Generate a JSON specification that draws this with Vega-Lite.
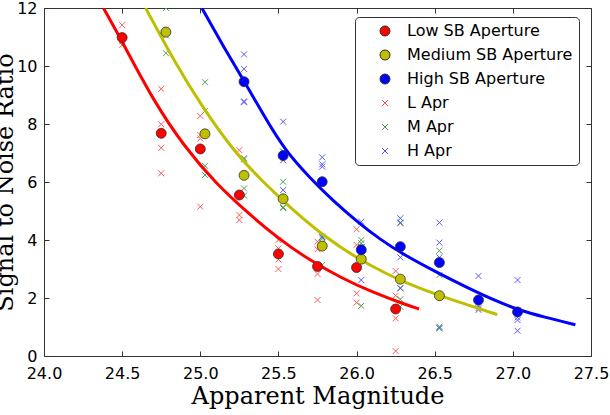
{
  "$schema": "https://vega.github.io/schema/vega-lite/v6.json",
  "width": 547,
  "height": 348,
  "autosize": "none",
  "padding": {"left": 44, "top": 8, "right": 19, "bottom": 59},
  "background": "white",
  "config": {
    "view": {"stroke": "#333", "strokeWidth": 1},
    "axis": {
      "labelFont": "DejaVu Sans", "labelFontSize": 16, "labelColor": "black",
      "titleFont": "DejaVu Serif", "titleFontWeight": "normal", "titleColor": "black", "titleFontSize": 24,
      "grid": false, "domainColor": "#333", "tickColor": "#333", "tickSize": -5, "tickWidth": 1
    }
  },
  "datasets": {
    "avg": [
      {"mag": 24.5, "snr": 10.98, "series": "Low SB Aperture"},
      {"mag": 24.75, "snr": 7.68, "series": "Low SB Aperture"},
      {"mag": 25.0, "snr": 7.14, "series": "Low SB Aperture"},
      {"mag": 25.25, "snr": 5.55, "series": "Low SB Aperture"},
      {"mag": 25.5, "snr": 3.52, "series": "Low SB Aperture"},
      {"mag": 25.75, "snr": 3.09, "series": "Low SB Aperture"},
      {"mag": 26.0, "snr": 3.05, "series": "Low SB Aperture"},
      {"mag": 26.25, "snr": 1.62, "series": "Low SB Aperture"},
      {"mag": 24.78, "snr": 11.17, "series": "Medium SB Aperture"},
      {"mag": 25.03, "snr": 7.66, "series": "Medium SB Aperture"},
      {"mag": 25.28, "snr": 6.23, "series": "Medium SB Aperture"},
      {"mag": 25.53, "snr": 5.42, "series": "Medium SB Aperture"},
      {"mag": 25.78, "snr": 3.79, "series": "Medium SB Aperture"},
      {"mag": 26.03, "snr": 3.34, "series": "Medium SB Aperture"},
      {"mag": 26.28, "snr": 2.65, "series": "Medium SB Aperture"},
      {"mag": 26.53, "snr": 2.08, "series": "Medium SB Aperture"},
      {"mag": 25.28, "snr": 9.46, "series": "High SB Aperture"},
      {"mag": 25.53, "snr": 6.91, "series": "High SB Aperture"},
      {"mag": 25.78, "snr": 6.01, "series": "High SB Aperture"},
      {"mag": 26.03, "snr": 3.66, "series": "High SB Aperture"},
      {"mag": 26.28, "snr": 3.77, "series": "High SB Aperture"},
      {"mag": 26.53, "snr": 3.22, "series": "High SB Aperture"},
      {"mag": 26.78, "snr": 1.93, "series": "High SB Aperture"},
      {"mag": 27.03, "snr": 1.52, "series": "High SB Aperture"}
    ],
    "trials": [
      {"mag": 24.5, "snr": 11.41, "series": "L Apr"}, {"mag": 24.5, "snr": 11.0, "series": "L Apr"}, {"mag": 24.5, "snr": 10.87, "series": "L Apr"}, {"mag": 24.5, "snr": 10.72, "series": "L Apr"},
      {"mag": 24.75, "snr": 9.21, "series": "L Apr"}, {"mag": 24.75, "snr": 7.99, "series": "L Apr"}, {"mag": 24.75, "snr": 7.18, "series": "L Apr"}, {"mag": 24.75, "snr": 6.30, "series": "L Apr"},
      {"mag": 25.0, "snr": 8.28, "series": "L Apr"}, {"mag": 25.0, "snr": 7.62, "series": "L Apr"}, {"mag": 25.0, "snr": 7.5, "series": "L Apr"}, {"mag": 25.0, "snr": 5.15, "series": "L Apr"},
      {"mag": 25.25, "snr": 7.10, "series": "L Apr"}, {"mag": 25.25, "snr": 5.55, "series": "L Apr"}, {"mag": 25.25, "snr": 4.86, "series": "L Apr"}, {"mag": 25.25, "snr": 4.69, "series": "L Apr"},
      {"mag": 25.5, "snr": 4.0, "series": "L Apr"}, {"mag": 25.5, "snr": 3.71, "series": "L Apr"}, {"mag": 25.5, "snr": 3.33, "series": "L Apr"}, {"mag": 25.5, "snr": 3.0, "series": "L Apr"},
      {"mag": 25.75, "snr": 3.94, "series": "L Apr"}, {"mag": 25.75, "snr": 3.68, "series": "L Apr"}, {"mag": 25.75, "snr": 2.83, "series": "L Apr"}, {"mag": 25.75, "snr": 1.93, "series": "L Apr"},
      {"mag": 26.0, "snr": 4.37, "series": "L Apr"}, {"mag": 26.0, "snr": 3.83, "series": "L Apr"}, {"mag": 26.0, "snr": 2.16, "series": "L Apr"}, {"mag": 26.0, "snr": 1.84, "series": "L Apr"},
      {"mag": 26.25, "snr": 2.93, "series": "L Apr"}, {"mag": 26.25, "snr": 2.08, "series": "L Apr"}, {"mag": 26.25, "snr": 1.30, "series": "L Apr"}, {"mag": 26.25, "snr": 0.17, "series": "L Apr"},
      {"mag": 24.78, "snr": 12.0, "series": "M Apr"}, {"mag": 24.78, "snr": 11.2, "series": "M Apr"}, {"mag": 24.78, "snr": 11.05, "series": "M Apr"}, {"mag": 24.78, "snr": 10.44, "series": "M Apr"},
      {"mag": 25.03, "snr": 9.44, "series": "M Apr"}, {"mag": 25.03, "snr": 8.45, "series": "M Apr"}, {"mag": 25.03, "snr": 6.56, "series": "M Apr"}, {"mag": 25.03, "snr": 6.24, "series": "M Apr"},
      {"mag": 25.28, "snr": 6.82, "series": "M Apr"}, {"mag": 25.28, "snr": 6.78, "series": "M Apr"}, {"mag": 25.28, "snr": 5.78, "series": "M Apr"}, {"mag": 25.28, "snr": 5.53, "series": "M Apr"},
      {"mag": 25.53, "snr": 6.01, "series": "M Apr"}, {"mag": 25.53, "snr": 5.44, "series": "M Apr"}, {"mag": 25.53, "snr": 5.13, "series": "M Apr"}, {"mag": 25.53, "snr": 5.10, "series": "M Apr"},
      {"mag": 25.78, "snr": 4.12, "series": "M Apr"}, {"mag": 25.78, "snr": 4.05, "series": "M Apr"}, {"mag": 25.78, "snr": 3.9, "series": "M Apr"}, {"mag": 25.78, "snr": 3.14, "series": "M Apr"},
      {"mag": 26.03, "snr": 4.0, "series": "M Apr"}, {"mag": 26.03, "snr": 3.89, "series": "M Apr"}, {"mag": 26.03, "snr": 3.75, "series": "M Apr"}, {"mag": 26.03, "snr": 1.73, "series": "M Apr"},
      {"mag": 26.28, "snr": 4.58, "series": "M Apr"}, {"mag": 26.28, "snr": 2.35, "series": "M Apr"}, {"mag": 26.28, "snr": 1.96, "series": "M Apr"}, {"mag": 26.28, "snr": 1.70, "series": "M Apr"},
      {"mag": 26.53, "snr": 3.63, "series": "M Apr"}, {"mag": 26.53, "snr": 2.79, "series": "M Apr"}, {"mag": 26.53, "snr": 1.01, "series": "M Apr"}, {"mag": 26.53, "snr": 0.95, "series": "M Apr"},
      {"mag": 25.28, "snr": 10.40, "series": "H Apr"}, {"mag": 25.28, "snr": 9.90, "series": "H Apr"}, {"mag": 25.28, "snr": 8.78, "series": "H Apr"}, {"mag": 25.28, "snr": 8.75, "series": "H Apr"},
      {"mag": 25.53, "snr": 8.08, "series": "H Apr"}, {"mag": 25.53, "snr": 7.05, "series": "H Apr"}, {"mag": 25.53, "snr": 6.75, "series": "H Apr"}, {"mag": 25.53, "snr": 5.72, "series": "H Apr"},
      {"mag": 25.78, "snr": 6.85, "series": "H Apr"}, {"mag": 25.78, "snr": 6.61, "series": "H Apr"}, {"mag": 25.78, "snr": 6.53, "series": "H Apr"}, {"mag": 25.78, "snr": 4.1, "series": "H Apr"},
      {"mag": 26.03, "snr": 4.63, "series": "H Apr"}, {"mag": 26.03, "snr": 3.75, "series": "H Apr"}, {"mag": 26.03, "snr": 3.64, "series": "H Apr"}, {"mag": 26.03, "snr": 2.62, "series": "H Apr"},
      {"mag": 26.28, "snr": 4.75, "series": "H Apr"}, {"mag": 26.28, "snr": 4.6, "series": "H Apr"}, {"mag": 26.28, "snr": 3.40, "series": "H Apr"}, {"mag": 26.28, "snr": 2.33, "series": "H Apr"},
      {"mag": 26.53, "snr": 4.6, "series": "H Apr"}, {"mag": 26.53, "snr": 3.91, "series": "H Apr"}, {"mag": 26.53, "snr": 3.4, "series": "H Apr"}, {"mag": 26.53, "snr": 0.97, "series": "H Apr"},
      {"mag": 26.78, "snr": 2.76, "series": "H Apr"}, {"mag": 26.78, "snr": 1.72, "series": "H Apr"}, {"mag": 26.78, "snr": 1.65, "series": "H Apr"}, {"mag": 26.78, "snr": 1.59, "series": "H Apr"},
      {"mag": 27.03, "snr": 2.62, "series": "H Apr"}, {"mag": 27.03, "snr": 1.33, "series": "H Apr"}, {"mag": 27.03, "snr": 1.24, "series": "H Apr"}, {"mag": 27.03, "snr": 0.87, "series": "H Apr"}
    ],
    "fits": [
      {"mag": 24.38, "snr": 12.0, "fit": "low"}, {"mag": 24.5, "snr": 10.85, "fit": "low"}, {"mag": 24.7, "snr": 8.8, "fit": "low"},
      {"mag": 24.9, "snr": 7.2, "fit": "low"}, {"mag": 25.1, "snr": 5.95, "fit": "low"}, {"mag": 25.3, "snr": 4.95, "fit": "low"},
      {"mag": 25.5, "snr": 4.05, "fit": "low"}, {"mag": 25.7, "snr": 3.3, "fit": "low"}, {"mag": 25.9, "snr": 2.7, "fit": "low"},
      {"mag": 26.1, "snr": 2.2, "fit": "low"}, {"mag": 26.3, "snr": 1.8, "fit": "low"}, {"mag": 26.4, "snr": 1.62, "fit": "low"},
      {"mag": 24.65, "snr": 12.0, "fit": "med"}, {"mag": 24.85, "snr": 10.0, "fit": "med"}, {"mag": 25.0, "snr": 8.7, "fit": "med"},
      {"mag": 25.2, "snr": 7.15, "fit": "med"}, {"mag": 25.4, "snr": 6.0, "fit": "med"}, {"mag": 25.6, "snr": 5.0, "fit": "med"},
      {"mag": 25.8, "snr": 4.1, "fit": "med"}, {"mag": 26.0, "snr": 3.38, "fit": "med"}, {"mag": 26.2, "snr": 2.8, "fit": "med"},
      {"mag": 26.4, "snr": 2.33, "fit": "med"}, {"mag": 26.6, "snr": 1.96, "fit": "med"}, {"mag": 26.8, "snr": 1.6, "fit": "med"},
      {"mag": 26.9, "snr": 1.43, "fit": "med"},
      {"mag": 25.01, "snr": 12.0, "fit": "high"}, {"mag": 25.15, "snr": 10.65, "fit": "high"}, {"mag": 25.29, "snr": 9.4, "fit": "high"},
      {"mag": 25.4, "snr": 8.35, "fit": "high"}, {"mag": 25.54, "snr": 7.1, "fit": "high"}, {"mag": 25.7, "snr": 6.15, "fit": "high"},
      {"mag": 25.85, "snr": 5.35, "fit": "high"}, {"mag": 26.0, "snr": 4.65, "fit": "high"}, {"mag": 26.15, "snr": 4.02, "fit": "high"},
      {"mag": 26.3, "snr": 3.5, "fit": "high"}, {"mag": 26.5, "snr": 2.92, "fit": "high"}, {"mag": 26.7, "snr": 2.38, "fit": "high"},
      {"mag": 26.9, "snr": 1.88, "fit": "high"}, {"mag": 27.03, "snr": 1.6, "fit": "high"}, {"mag": 27.2, "snr": 1.34, "fit": "high"},
      {"mag": 27.4, "snr": 1.08, "fit": "high"}
    ]
  },
  "layer": [
    {
      "mark": {"type": "rule", "color": "#008000", "strokeWidth": 1, "strokeDash": [4, 3]},
      "encoding": {"y": {"datum": 3, "type": "quantitative", "axis": null}}
    },
    {
      "data": {"name": "trials"},
      "mark": {"type": "point", "filled": true, "strokeWidth": 1, "opacity": 1, "size": 100, "clip": true},
      "encoding": {
        "x": {"field": "mag", "type": "quantitative", "scale": {"domain": [24, 27.5], "nice": false, "zero": false},
              "axis": {"values": [24, 24.5, 25, 25.5, 26, 26.5, 27, 27.5], "format": ".1f", "title": "Apparent Magnitude", "labelPadding": 14, "titlePadding": 3, "labelFlush": false}},
        "y": {"field": "snr", "type": "quantitative", "scale": {"domain": [0, 12], "nice": false},
              "axis": {"values": [0, 2, 4, 6, 8, 10, 12], "title": "Signal to Noise Ratio", "labelPadding": 12, "titleX": -32, "titleBaseline": "alphabetic"}},
        "color": {"field": "series", "type": "nominal",
          "scale": {"domain": ["Low SB Aperture", "Medium SB Aperture", "High SB Aperture", "L Apr", "M Apr", "H Apr"],
                    "range": ["#ff0000", "#bfbf00", "#0000ff", "#ff5959", "#4ea64e", "#5959ff"]},
          "legend": {"title": null, "orient": "none", "legendX": 311, "legendY": 9, "padding": 6, "strokeColor": "#333", "fillColor": "white",
                     "cornerRadius": 4, "labelFont": "DejaVu Sans", "labelFontSize": 16, "labelColor": "black", "rowPadding": 8,
                     "labelLimit": 0, "symbolSize": 100, "symbolOffset": 16, "labelOffset": 14, "symbolStrokeWidth": 1}},
        "stroke": {"field": "series", "type": "nominal",
          "scale": {"domain": ["Low SB Aperture", "Medium SB Aperture", "High SB Aperture", "L Apr", "M Apr", "H Apr"],
                    "range": ["#333333", "#333333", "#333333", "#ff5959", "#4ea64e", "#5959ff"]}},
        "shape": {"field": "series", "type": "nominal",
          "scale": {"domain": ["Low SB Aperture", "Medium SB Aperture", "High SB Aperture", "L Apr", "M Apr", "H Apr"],
                    "range": ["M1,0A1,1,0,1,1,-1,0A1,1,0,1,1,1,0Z", "M1,0A1,1,0,1,1,-1,0A1,1,0,1,1,1,0Z", "M1,0A1,1,0,1,1,-1,0A1,1,0,1,1,1,0Z",
                              "M-0.6,-0.6L0.6,0.6M-0.6,0.6L0.6,-0.6", "M-0.6,-0.6L0.6,0.6M-0.6,0.6L0.6,-0.6", "M-0.6,-0.6L0.6,0.6M-0.6,0.6L0.6,-0.6"]}}
      }
    },
    {
      "data": {"name": "fits"},
      "transform": [{"filter": "datum.fit == 'low'"}],
      "mark": {"type": "line", "color": "#ff0000", "strokeWidth": 3, "interpolate": "basis", "clip": true},
      "encoding": {
        "x": {"field": "mag", "type": "quantitative", "axis": {"orient": "top", "values": [24, 24.5, 25, 25.5, 26, 26.5, 27, 27.5], "labels": false, "title": null, "domain": false}},
        "y": {"field": "snr", "type": "quantitative", "axis": {"orient": "right", "values": [0, 2, 4, 6, 8, 10, 12], "labels": false, "title": null, "domain": false}}
      }
    },
    {
      "data": {"name": "fits"},
      "transform": [{"filter": "datum.fit == 'med'"}],
      "mark": {"type": "line", "color": "#bfbf00", "strokeWidth": 3, "interpolate": "basis", "clip": true},
      "encoding": {
        "x": {"field": "mag", "type": "quantitative", "axis": null},
        "y": {"field": "snr", "type": "quantitative", "axis": null}
      }
    },
    {
      "data": {"name": "fits"},
      "transform": [{"filter": "datum.fit == 'high'"}],
      "mark": {"type": "line", "color": "#0000ff", "strokeWidth": 3, "interpolate": "basis", "clip": true},
      "encoding": {
        "x": {"field": "mag", "type": "quantitative", "axis": null},
        "y": {"field": "snr", "type": "quantitative", "axis": null}
      }
    },
    {
      "data": {"name": "avg"},
      "mark": {"type": "point", "filled": true, "strokeWidth": 0.8, "opacity": 1, "size": 100, "clip": true},
      "encoding": {
        "x": {"field": "mag", "type": "quantitative", "axis": null},
        "y": {"field": "snr", "type": "quantitative", "axis": null},
        "color": {"field": "series", "type": "nominal"},
        "stroke": {"field": "series", "type": "nominal"},
        "shape": {"field": "series", "type": "nominal"}
      }
    },
    {
      "mark": {"type": "text", "text": "3σ Threshold", "align": "left", "baseline": "alphabetic", "font": "DejaVu Serif", "fontSize": 16, "color": "#008000"},
      "encoding": {
        "x": {"datum": 24.2, "type": "quantitative", "axis": null},
        "y": {"datum": 3.2, "type": "quantitative", "axis": null}
      }
    }
  ],
  "resolve": {"axis": {"x": "independent", "y": "independent"}}
}
